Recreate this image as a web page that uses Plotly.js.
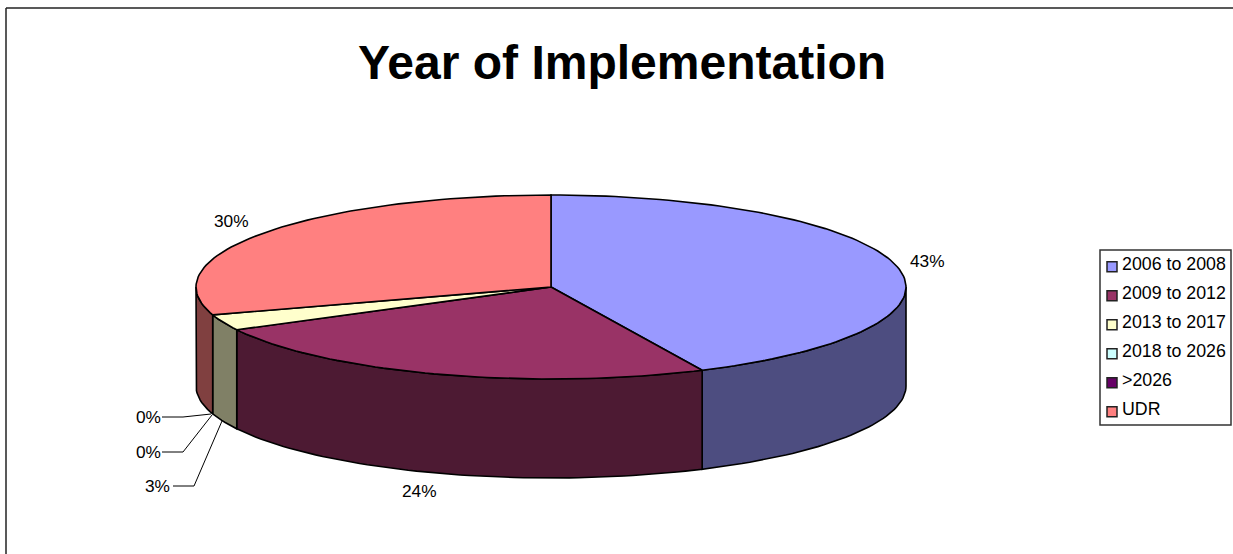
<!DOCTYPE html>
<html><head><meta charset="utf-8">
<script src="https://cdn.plot.ly/plotly-3.0.1.min.js"></script>
<style>html,body{margin:0;padding:0;background:#fff}#c{width:1233px;height:554px}</style></head>
<body><div id="c"></div>
<script>
const categories = ['2006 to 2008','2009 to 2012','2013 to 2017','2018 to 2026','>2026','UDR'];
const values = [43,24.3,2.8,0,0,29.9];
const topColors = ['#9999FF','#993366','#FFFFCC','#CCFFFF','#660066','#FF8080'];
const sideColors = ['#4D4D80','#4D1A33','#808066','#668080','#330033','#804040'];
const labelPositions = [[927,261],[419,491],[157,486],[148,452],[148,417],[231,221]];
const leaderLines = [null,null,[[173,194,222],[486,486,421]],[[162,183,212],[452,452,415]],[[162,183,211],[417,417,414]],null];
const titleText = 'Year of Implementation';

const cx=551, cy=287, rx=355, ry=92, depth=99;
const total = values.reduce((a,b)=>a+b,0);
const px = a => cx + rx*Math.sin(a*Math.PI/180);
const py = a => cy - ry*Math.cos(a*Math.PI/180);
function arc(a0,a1){const n=Math.max(2,Math.ceil(Math.abs(a1-a0)/1.5));const r=[];for(let i=0;i<=n;i++)r.push(a0+(a1-a0)*i/n);return r;}
const traces=[], lineW=1.6;
let start=0; const slices=values.map((v,i)=>{const s={i,a0:start,a1:start+v/total*360};start=s.a1;return s;});
function poly(xs,ys,fill,name){traces.push({type:'scatter',mode:'lines',x:xs,y:ys,fill:'toself',fillcolor:fill,line:{color:'#000',width:lineW},hoverinfo:'skip',showlegend:false,name});}
// side walls: only the front half (90 to 270 degrees from the top) is visible
slices.forEach(s=>{
  const a0=Math.max(s.a0,90), a1=Math.min(s.a1,270);
  if(a1<=a0) return;
  const A=arc(a0,a1);
  poly(A.map(px).concat(A.slice().reverse().map(px),[px(a0)]),
       A.map(py).concat(A.slice().reverse().map(a=>py(a)+depth),[py(a0)]),
       sideColors[s.i],categories[s.i]);
});
// top faces
slices.forEach(s=>{
  if(s.a1<=s.a0) return;
  const A=arc(s.a0,s.a1);
  poly([cx].concat(A.map(px),[cx]),[cy].concat(A.map(py),[cy]),topColors[s.i],categories[s.i]);
});
// leader lines
leaderLines.forEach(l=>{ if(l) traces.push({type:'scatter',mode:'lines',x:l[0],y:l[1],line:{color:'#000',width:1},hoverinfo:'skip',showlegend:false}); });
// legend swatches
const lgTop=266.7, lgStep=29;
traces.push({type:'scatter',mode:'markers',x:categories.map(()=>1112),y:categories.map((c,i)=>lgTop+i*lgStep),
  marker:{symbol:'square',size:10,color:topColors,line:{color:'#222',width:1.5}},hoverinfo:'skip',showlegend:false});

const family='"Liberation Sans",Arial,sans-serif';
const font={family,size:17.3,color:'#000'};
const legendFont={family,size:17.8,color:'#000'};
const annotations=[{x:622,y:62,text:titleText,showarrow:false,xanchor:'center',yanchor:'middle',font:{family,size:48,color:'#000',weight:700}}];
values.forEach((v,i)=>annotations.push({x:labelPositions[i][0],y:labelPositions[i][1],text:Math.round(v/total*100)+'%',showarrow:false,xanchor:'center',yanchor:'middle',font}));
categories.forEach((c,i)=>annotations.push({x:1119.5,y:lgTop-2.7+i*lgStep,text:c.replace('>','&gt;'),showarrow:false,xanchor:'left',yanchor:'middle',font:legendFont}));
const shapes=[
 {type:'line',x0:6,x1:6,y0:8,y1:554,line:{color:'#222',width:1.5}},
 {type:'line',x0:6,x1:1233,y0:8,y1:8,line:{color:'#222',width:1.5}},
 {type:'rect',x0:1100,x1:1231,y0:250,y1:425,line:{color:'#333',width:1.5},fillcolor:'#fff',layer:'below'}
];
const axis={visible:false,fixedrange:true};
Plotly.newPlot('c',traces,{
 width:1233,height:554,margin:{l:0,r:0,t:0,b:0},paper_bgcolor:'#fff',plot_bgcolor:'#fff',showlegend:false,
 xaxis:Object.assign({range:[0,1233]},axis),yaxis:Object.assign({range:[554,0]},axis),
 annotations,shapes
},{displayModeBar:false,staticPlot:true});
</script></body></html>
